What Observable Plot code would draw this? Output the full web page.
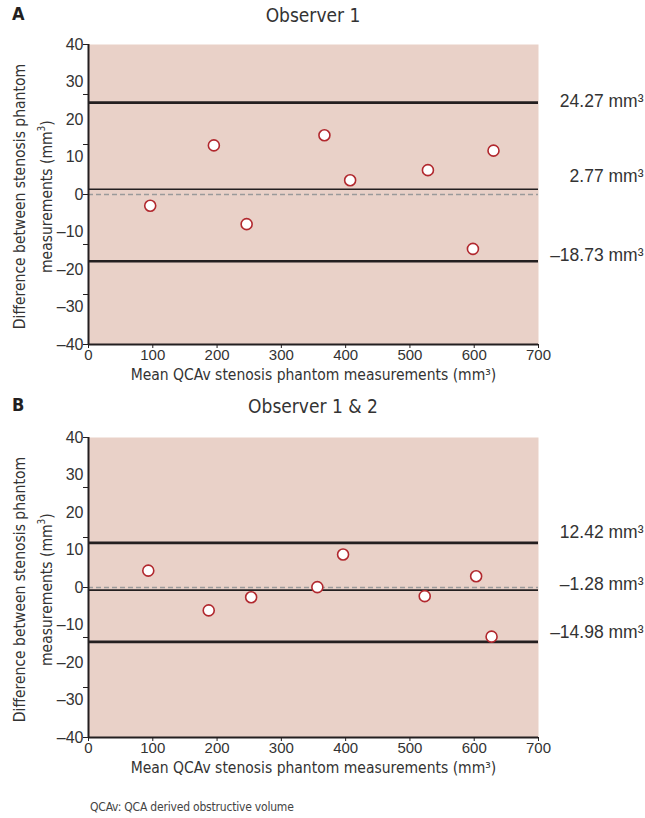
<!DOCTYPE html>
<html>
<head>
<meta charset="utf-8">
<script src="https://cdn.jsdelivr.net/npm/d3@7"></script>
<script src="https://cdn.jsdelivr.net/npm/@observablehq/plot@0.6"></script>
<style>
  html, body { margin: 0; padding: 0; background: #fff; }
  body { width: 645px; height: 818px; position: relative; overflow: hidden;
         font-family: "Liberation Sans Narrow", "DejaVu Sans Condensed", "Liberation Sans", sans-serif; color: #333; }
  .panel { position: absolute; left: 0; }
  .letter { position: absolute; left: 12px; font-weight: bold; font-size: 18px; color: #231f20; }
  .title { position: absolute; left: 88px; width: 450px; text-align: center; font-size: 19px; color: #333;
           font-family: "DejaVu Sans Condensed", sans-serif; }
  .ylab { position: absolute; left: 0; width: 320px; text-align: center; font-size: 15.5px; line-height: 21px; color: #333;
          transform-origin: center center; transform: rotate(-90deg); }
  .foot { position: absolute; left: 90px; top: 800px; font-size: 12px; color: #444; letter-spacing: -0.2px; }
</style>
</head>
<body>
<div class="letter" style="top:3px">A</div>
<div class="title" style="top:4px">Observer 1</div>
<div class="letter" style="top:394px">B</div>
<div class="title" style="top:395px">Observer 1 &amp; 2</div>
<div id="pA" class="panel" style="top:0px"></div>
<div id="pB" class="panel" style="top:393px"></div>
<div class="ylab" style="top:173px; left:-126px">Difference between stenosis phantom<br>measurements (mm<sup style="font-size:10px">3</sup>)</div>
<div class="ylab" style="top:566px; left:-126px">Difference between stenosis phantom<br>measurements (mm<sup style="font-size:10px">3</sup>)</div>
<div class="foot">QCAv: QCA derived obstructive volume</div>
<script>
// ---- Data ----
const xTicks = [0, 100, 200, 300, 400, 500, 600, 700];
const yTickLabels = [-40, -30, -20, -10, 0, 10, 20, 30, 40];
const yTickMarks = [-40, -26.67, -13.33, 0, 13.33, 26.67, 40];

// Panel A (Observer 1)
const meanA = [96, 195, 246, 367, 407, 528, 598, 630];
const diffA = [-3.0, 13.1, -7.9, 15.8, 3.8, 6.5, -14.5, 11.7];
const limitsA = [24.5, 1.4, -17.8];          // upper LoA, bias, lower LoA (as drawn)
const limitLabelsA = ["24.27 mm³", "2.77 mm³", "–18.73 mm³"];

// Panel B (Observer 1 & 2)
const meanB = [93, 187, 253, 356, 396, 523, 603, 627];
const diffB = [4.5, -6.1, -2.6, 0.1, 8.8, -2.3, 3.0, -13.1];
const limitsB = [11.9, -0.7, -14.5];
const limitLabelsB = ["12.42 mm³", "–1.28 mm³", "–14.98 mm³"];

const labelDy = [[-1, -13, -6], [-10, -6, -9]];

const ink = "#231f20";
const txt = "#333";

function panel(xs, ys, limits, labels, dys) {
  const pts = xs.map((x, i) => ({x, y: ys[i]}));
  const lims = limits.map((v, i) => ({v, label: labels[i], dy: dys[i], kind: i === 1 ? "bias" : "loa"}));
  return Plot.plot({
    width: 645,
    height: 390,
    marginTop: 44,
    marginBottom: 46,
    marginLeft: 88,
    marginRight: 107,
    style: {fontFamily: '"Liberation Sans", sans-serif', fontSize: "16px", color: txt, background: "transparent"},
    x: {domain: [0, 700]},
    y: {domain: [-40, 40]},
    marks: [
      Plot.frame({fill: "#e9d1c8", stroke: null}),
      Plot.ruleY([0], {stroke: "#9a9a9a", strokeWidth: 1.5, strokeDasharray: "5,3"}),
      Plot.ruleY(lims.filter(d => d.kind === "bias"), {y: "v", stroke: ink, strokeWidth: 1.6}),
      Plot.ruleY(lims.filter(d => d.kind === "loa"), {y: "v", stroke: ink, strokeWidth: 2.6}),
      Plot.axisX({ticks: xTicks, tickFormat: d => String(d), tickSize: 4, tickPadding: 1, stroke: ink, fill: txt, fontSize: 15, label: null}),
      Plot.axisY({ticks: yTickLabels, tickFormat: d => d < 0 ? "–" + Math.abs(d) : String(d), tickSize: 0, tickPadding: 5, fill: txt, fontSize: 16, label: null}),
      Plot.axisY({ticks: yTickMarks, tickFormat: () => "", tickSize: 5, stroke: ink, label: null}),
      Plot.ruleX([0], {stroke: ink, strokeWidth: 2}),
      Plot.ruleY([-40], {stroke: ink, strokeWidth: 2}),
      Plot.text(["Mean QCAv stenosis phantom measurements (mm³)"], {frameAnchor: "bottom", dy: 35, fontSize: 15.5, fill: txt, fontFamily: '"Liberation Sans Narrow", "DejaVu Sans Condensed", sans-serif'}),
      ...lims.map(d => Plot.text([d], {y: "v", text: "label", frameAnchor: "right", textAnchor: "end", dx: 105, dy: d.dy, fontSize: 17.5, fill: txt})),
      Plot.dot(pts, {x: "x", y: "y", r: 5.5, fill: "white", stroke: "#b1282e", strokeWidth: 1.6})
    ]
  });
}

document.getElementById("pA").appendChild(panel(meanA, diffA, limitsA, limitLabelsA, labelDy[0]));
document.getElementById("pB").appendChild(panel(meanB, diffB, limitsB, limitLabelsB, labelDy[1]));
</script>
</body>
</html>
